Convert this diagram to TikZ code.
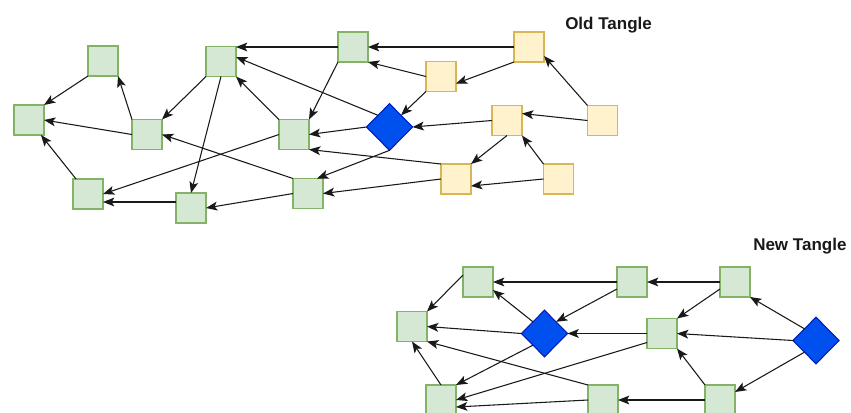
\documentclass[tikz,border=0pt]{standalone}
\usepackage{fontspec}
\setmainfont{Liberation Sans}
\usetikzlibrary{arrows.meta,shapes.geometric,calc}

\definecolor{gfill}{HTML}{D5E8D4}
\definecolor{gline}{HTML}{82B366}
\definecolor{yfill}{HTML}{FFF2CC}
\definecolor{yline}{HTML}{D6B656}
\definecolor{bfill}{HTML}{0050EF}
\definecolor{bline}{HTML}{001DBC}

\tikzset{
  sq/.style={rectangle, minimum size=22.5pt, inner sep=0pt, outer sep=0pt, line width=0.8pt},
  gbox/.style={sq, fill=gfill, draw=gline},
  ybox/.style={sq, fill=yfill, draw=yline},
  hub/.style={diamond, aspect=1, minimum width=34.5pt, minimum height=35pt,
    inner sep=0pt, outer sep=0pt, fill=bfill, draw=bline, line width=0.8pt},
  edge/.style={line width=0.8pt, draw=black!90,
    -{Stealth[length=8.5pt, width=6.6pt, inset=2pt]}},
  title/.style={anchor=base west, inner sep=0pt, text=black!90,
    font=\bfseries\fontsize{12.75pt}{15pt}\selectfont}
}

\begin{document}
\begin{tikzpicture}[x=0.75pt, y=-0.75pt]
\useasboundingbox (0,0) rectangle (851,412);
\clip (0,0) rectangle (851,412);

% ---------- old tangle ----------
\node[title] (oldt) at (565,29) {Old Tangle};

\node[gbox] (G1) at (103,61) {};
\node[gbox] (G2) at (221,61.5) {};
\node[gbox] (G3) at (29,120) {};
\node[gbox] (G4) at (147,134.5) {};
\node[gbox] (G5) at (294,134.5) {};
\node[gbox] (G6) at (88,194) {};
\node[gbox] (G7) at (191,208) {};
\node[gbox] (G8) at (308,193.5) {};
\node[gbox] (G9) at (353,47) {};
\node[ybox] (Y1) at (529,47) {};
\node[ybox] (Y2) at (441,76.5) {};
\node[ybox] (Y3) at (507,120.5) {};
\node[ybox] (Y4) at (602.5,120.5) {};
\node[ybox] (Y5) at (456,179) {};
\node[ybox] (Y6) at (558.5,179) {};
\node[hub] (D) at (389.5,127) {};

\draw[edge] (G1.south west) -- (G3.north east);
\draw[edge] (G4.north west) -- (G1.south east);
\draw[edge] (G4.west) -- (G3.east);
\draw[edge] (G2.south west) -- (G4.north east);
\draw[edge] (G2.south) -- (G7.north);
\draw[edge] (G5.north west) -- (G2.south east);
\draw[edge] (G9.west) -- (G9.west -| G2.east);
\draw[edge] (D.north west) -- ($(G2.east)+(0,-4.5)$);
\draw[edge] (G6) -- (G3);
\draw[edge] (G5.west) -- (G6.east);
\draw[edge] (G8.north west) -- (G4.east);
\draw[edge] (G8.west) -- (G7.east);
\draw[edge] ($(G7.west)+(0,-6)$) -- ($(G6.east)+(0,8)$);
\draw[edge] (Y1.west) -- (G9.east);
\draw[edge] (Y2.west) -- (G9.south east);
\draw[edge] (Y1.south west) -- ($(Y2.east)+(0,7)$);
\draw[edge] (Y2.south west) -- (D.north east);
\draw[edge] (G9.south west) -- (G5.north east);
\draw[edge] (D.west) -- (G5.east);
\draw[edge] (Y3.west) -- (D.east);
\draw[edge] (Y4.west) -- ($(Y3.east)+(0,-7)$);
\draw[edge] (Y4.north west) -- ($(Y1.east)+(0,9)$);
\draw[edge] (Y3.south) -- (Y5.north east);
\draw[edge] (Y6.north west) -- (Y3.south east);
\draw[edge] (Y6.west) -- ($(Y5.east)+(0,7)$);
\draw[edge] (Y5.north west) -- (G5.south east);
\draw[edge] (Y5.west) -- (G8.east);
\draw[edge] (D.south) -- ($(G8.north east)+(-6,0)$);

% ---------- new tangle ----------
\node[title] (newt) at (753,250) {New Tangle};

\node[gbox] (N1) at (478,282) {};
\node[gbox] (N2) at (632,282) {};
\node[gbox] (N3) at (735,282) {};
\node[gbox] (N4) at (412,326.5) {};
\node[gbox] (N5) at (662,333.5) {};
\node[gbox] (N6) at (441,400) {};
\node[gbox] (N7) at (603,400) {};
\node[gbox] (N8) at (720,400) {};
\node[hub] (D1) at (544.5,333.5) {};
\node[hub] (D2) at (816,340.5) {};

\draw[edge] (N2.west) -- (N1.east);
\draw[edge] (N3.west) -- (N2.east);
\draw[edge] ($(N1.west)+(0,-7)$) -- (N4.north east);
\draw[edge] (D1.north west) -- ($(N1.east)+(0,8)$);
\draw[edge] ($(N2.west)+(0,7)$) -- (D1.north east);
\draw[edge] ($(N3.west)+(0,7)$) -- (N5.north east);
\draw[edge] (D2.north west) -- (N3.south east);
\draw[edge] (D1.west) -- (N4.east);
\draw[edge] (N5.west) -- (D1.east);
\draw[edge] (D2.west) -- (N5.east);
\draw[edge] (D2.south west) -- ($(N8.east)+(0,-8)$);
\draw[edge] (N8.north west) -- (N5.south east);
\draw[edge] (N8.west) -- (N7.east);
\draw[edge] (N7.north west) -- (N4.south east);
\draw[edge] (N6.north) -- (N4.south);
\draw[edge] (D1.south west) -- (N6.north east);
\draw[edge] ($(N5.west)+(0,9)$) -- (N6.east);
\draw[edge] (N7.west) -- ($(N6.east)+(0,7)$);
\end{tikzpicture}
\end{document}
